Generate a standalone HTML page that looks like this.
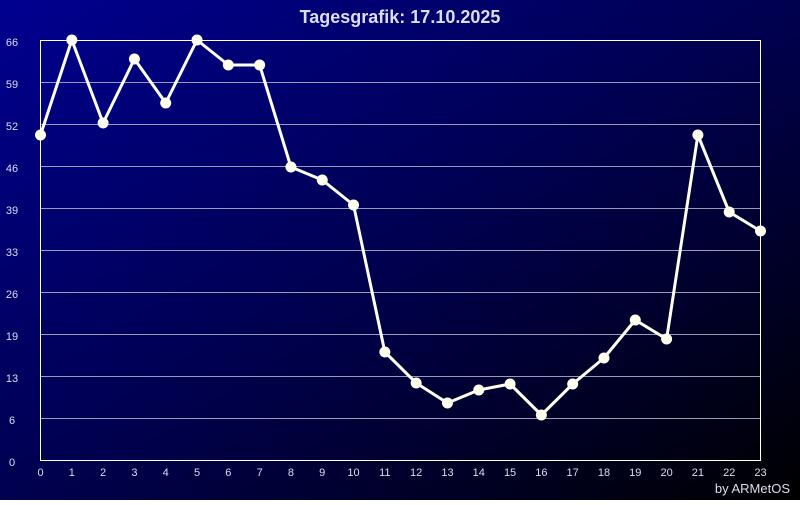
<!DOCTYPE html>
<html><head><style>body{margin:0}</style></head><body>
<svg width="800" height="500" xmlns="http://www.w3.org/2000/svg" font-family="Liberation Sans, sans-serif">
<defs><linearGradient id="g" x1="0" y1="0" x2="1" y2="1"><stop offset="0" stop-color="#000090"/><stop offset="0.5" stop-color="#000050"/><stop offset="1" stop-color="#000000"/></linearGradient></defs>
<rect width="800" height="500" fill="url(#g)"/>
<text x="400" y="23" text-anchor="middle" fill="#dde" font-size="18" font-weight="bold">Tagesgrafik: 17.10.2025</text>
<g stroke="#9a9ab8" stroke-width="1">
<line x1="40" x2="760" y1="82.5" y2="82.5"/><line x1="40" x2="760" y1="124.5" y2="124.5"/><line x1="40" x2="760" y1="166.5" y2="166.5"/><line x1="40" x2="760" y1="208.5" y2="208.5"/><line x1="40" x2="760" y1="250.5" y2="250.5"/><line x1="40" x2="760" y1="292.5" y2="292.5"/><line x1="40" x2="760" y1="334.5" y2="334.5"/><line x1="40" x2="760" y1="376.5" y2="376.5"/><line x1="40" x2="760" y1="418.5" y2="418.5"/>
</g>
<rect x="40.5" y="40.5" width="720" height="420" fill="none" stroke="#fff" stroke-width="1"/>
<g fill="#dde" font-size="11" text-anchor="middle">
<text x="12" y="46">66</text><text x="12" y="88">59</text><text x="12" y="130">52</text><text x="12" y="172">46</text><text x="12" y="214">39</text><text x="12" y="256">33</text><text x="12" y="298">26</text><text x="12" y="340">19</text><text x="12" y="382">13</text><text x="12" y="424">6</text><text x="12" y="466">0</text>
</g>
<g fill="#dde" font-size="11" text-anchor="middle" id="xl"></g>
<text x="790" y="493" text-anchor="end" fill="#dde" font-size="13">by ARMetOS</text>
<polyline id="ln" fill="none" stroke="#fffff0" stroke-width="3" stroke-linejoin="round"/>
<g id="pts" fill="#fffff0"></g>
</svg>
<script>
var ys=[135,40,123,59,103,40,65,65,167,180,205,352,383,403,390,384,415,384,358,320,339,135,212,231];
var ns="http://www.w3.org/2000/svg",p=[],xl=document.getElementById('xl'),pts=document.getElementById('pts');
ys.forEach(function(y,i){var x=40.5+i*720/23;p.push(x+','+y);
var c=document.createElementNS(ns,'circle');c.setAttribute('cx',x);c.setAttribute('cy',y);c.setAttribute('r',5.5);pts.appendChild(c);
var t=document.createElementNS(ns,'text');t.setAttribute('x',x);t.setAttribute('y',476);t.textContent=i;xl.appendChild(t);});
document.getElementById('ln').setAttribute('points',p.join(' '));
</script>
</body></html>
